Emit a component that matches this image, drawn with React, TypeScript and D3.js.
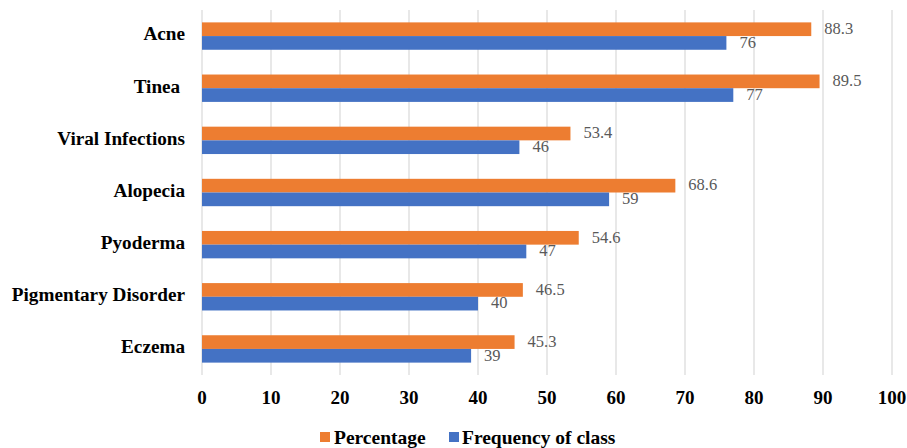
import React from "react";
import * as d3 from "d3";

const categories = ["Acne", "Tinea ", "Viral Infections", "Alopecia", "Pyoderma", "Pigmentary Disorder", "Eczema"];
const percentage = [88.3, 89.5, 53.4, 68.6, 54.6, 46.5, 45.3];
const frequency = [76, 77, 46, 59, 47, 40, 39];
const xTicks = [0, 10, 20, 30, 40, 50, 60, 70, 80, 90, 100];

const width = 907;
const height = 448;
const plot = { left: 202, right: 892, top: 10, bottom: 375 };
const ORANGE = "#ED7D31";
const BLUE = "#4472C4";
const font = "'Liberation Serif', 'Times New Roman', serif";

const App = () => {
  const x = d3.scaleLinear().domain([0, 100]).range([plot.left, plot.right]);
  const y = d3
    .scaleBand<number>()
    .domain(categories.map((_, i) => i))
    .range([plot.top, plot.bottom])
    .paddingInner(0.475)
    .paddingOuter(0.2375);
  const bh = y.bandwidth() / 2;

  return (
    <svg width={width} height={height} style={{ position: "absolute", left: 0, top: 0 }}>
      <rect width={width} height={height} fill="#fff" />
      {xTicks.map((t) => (
        <line key={t} x1={x(t)} x2={x(t)} y1={plot.top} y2={plot.bottom} stroke="#D9D9D9" strokeWidth={1.2} />
      ))}
      {categories.map((c, i) => {
        const y0 = y(i)!;
        return (
          <g key={i}>
            <rect x={x(0)} y={y0} width={x(percentage[i]) - x(0)} height={bh} fill={ORANGE} />
            <rect x={x(0)} y={y0 + bh} width={x(frequency[i]) - x(0)} height={bh} fill={BLUE} />
            <text x={x(percentage[i]) + 13} y={y0 + bh / 2 + 1} dominantBaseline="middle" fontFamily={font} fontSize={16.5} fill="#595959">
              {percentage[i]}
            </text>
            <text x={x(frequency[i]) + 13} y={y0 + bh * 1.5 + 1} dominantBaseline="middle" fontFamily={font} fontSize={16.5} fill="#595959">
              {frequency[i]}
            </text>
            <text x={185} y={y0 + bh} dominantBaseline="middle" textAnchor="end" fontFamily={font} fontSize={19.2} fontWeight="bold" fill="#000" style={{ whiteSpace: "pre" }}>
              {c}
            </text>
          </g>
        );
      })}
      {xTicks.map((t) => (
        <text key={t} x={x(t)} y={404} textAnchor="middle" fontFamily={font} fontSize={19} fontWeight="bold" fill="#000">
          {t}
        </text>
      ))}
      <g fontFamily={font} fontSize={19.5} fontWeight="bold" fill="#000">
        <rect x={320} y={432} width={10} height={10} fill={ORANGE} />
        <text x={334} y={444}>Percentage</text>
        <rect x={449} y={432} width={10} height={10} fill={BLUE} />
        <text x={462} y={444}>Frequency of class</text>
      </g>
    </svg>
  );
};

export default App;
